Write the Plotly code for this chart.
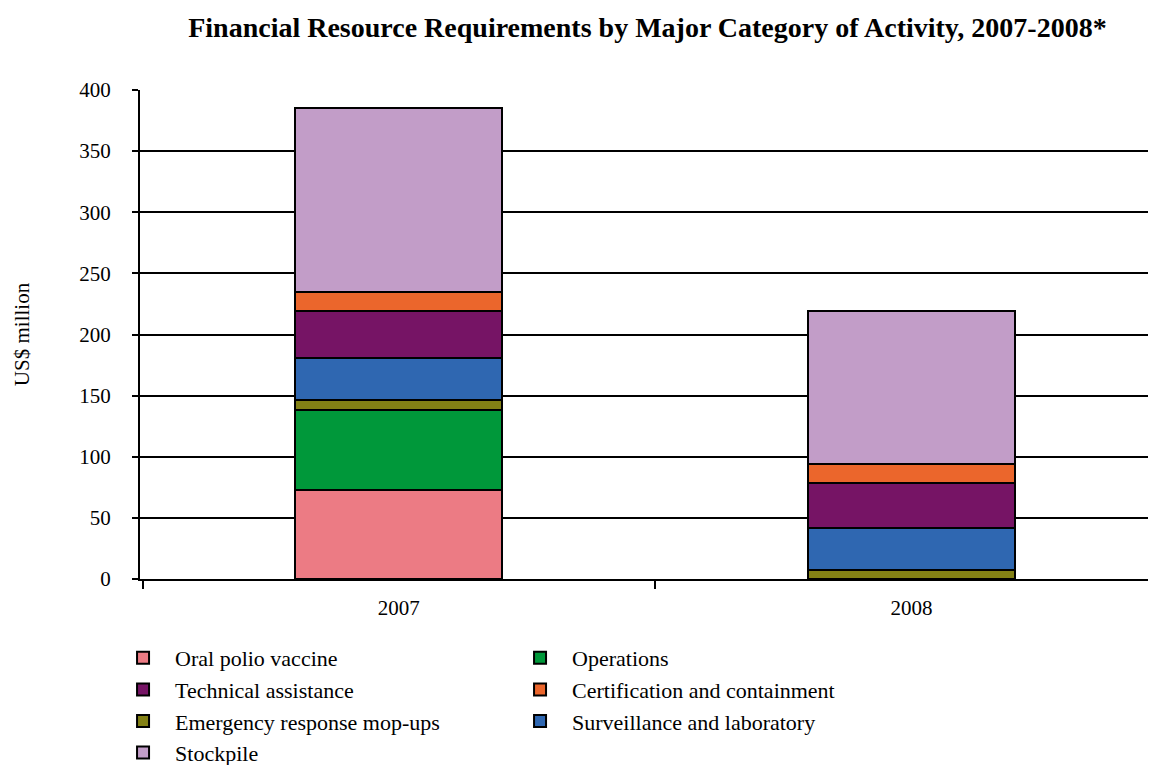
import plotly.graph_objects as go

years = ["2007", "2008"]
categories = [
    "Oral polio vaccine",
    "Operations",
    "Emergency response mop-ups",
    "Surveillance and laboratory",
    "Technical assistance",
    "Certification and containment",
    "Stockpile",
]
oral_polio_vaccine = [73, 0]
operations = [65, 0]
emergency_mopups = [8.5, 7.5]
surveillance_lab = [34, 34]
technical_assistance = [39, 37]
certification = [15.5, 15.5]
stockpile = [150, 125]

colors = {
    "Oral polio vaccine": "#EC7B84",
    "Operations": "#00983A",
    "Emergency response mop-ups": "#838115",
    "Surveillance and laboratory": "#2F67B1",
    "Technical assistance": "#761465",
    "Certification and containment": "#EB662C",
    "Stockpile": "#C29DC8",
}
series = {
    "Oral polio vaccine": oral_polio_vaccine,
    "Operations": operations,
    "Emergency response mop-ups": emergency_mopups,
    "Surveillance and laboratory": surveillance_lab,
    "Technical assistance": technical_assistance,
    "Certification and containment": certification,
    "Stockpile": stockpile,
}
legend_rank = {
    "Oral polio vaccine": 1,
    "Operations": 2,
    "Technical assistance": 3,
    "Certification and containment": 4,
    "Emergency response mop-ups": 5,
    "Surveillance and laboratory": 6,
    "Stockpile": 7,
}

fig = go.Figure()
for name in categories:
    fig.add_trace(go.Bar(
        x=years, y=series[name], name=name,
        marker=dict(color=colors[name], line=dict(color="black", width=2)),
        legendrank=legend_rank[name],
    ))

serif = "Liberation Serif, Times New Roman, serif"
fig.update_layout(
    barmode="stack",
    bargap=0.596,
    width=1148, height=757,
    margin=dict(l=132, r=0, t=82, b=186, autoexpand=False),
    plot_bgcolor="white", paper_bgcolor="white",
    title=dict(
        text="<b>Financial Resource Requirements by Major Category of Activity, 2007-2008*</b>",
        x=0.557, xanchor="center", y=0.974, yanchor="middle",
        font=dict(family=serif, size=28, color="black"),
    ),
    font=dict(family=serif, color="black"),
    showlegend=True,
    legend=dict(
        orientation="h", x=-0.0285, xanchor="left", y=-0.1186, yanchor="top",
        entrywidth=328, entrywidthmode="pixels",
        font=dict(family=serif, size=22, color="black"),
        traceorder="normal", itemwidth=54,
    ),
)
fig.update_yaxes(
    range=[0, 400], dtick=50,
    showgrid=True, gridcolor="black", gridwidth=2,
    showline=True, linecolor="black", linewidth=2,
    ticks="outside", ticklen=6, tickcolor="black", tickwidth=2,
    ticklabelstandoff=17,
    tickfont=dict(family=serif, size=21, color="black"),
    title=dict(text="US$ million", font=dict(family=serif, size=21, color="black"), standoff=44),
    zeroline=False,
)
fig.update_xaxes(
    range=[-0.505, 1.477],
    showline=True, linecolor="black", linewidth=2,
    ticks="outside", tickson="boundaries", ticklen=8, tickcolor="black", tickwidth=2,
    ticklabelstandoff=9,
    tickfont=dict(family=serif, size=21, color="black"),
)
fig.write_html("out.html")
